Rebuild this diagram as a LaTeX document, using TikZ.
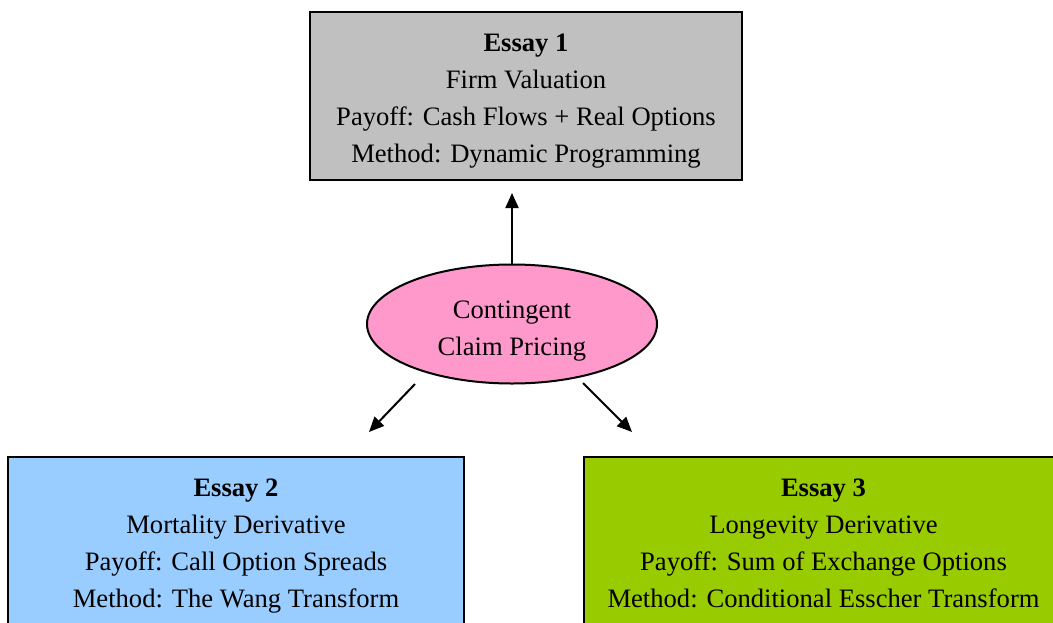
\documentclass[tikz,border=0pt]{standalone}
\usepackage{fontspec}
\setmainfont{Liberation Serif}
\usetikzlibrary{shapes.geometric}
\usetikzlibrary{arrows.meta}

\definecolor{essaygray}{HTML}{C0C0C0}
\definecolor{essaypink}{HTML}{FF99CC}
\definecolor{essayblue}{HTML}{99CCFF}
\definecolor{essaygreen}{HTML}{99CC00}

\begin{document}
\begin{tikzpicture}[
	x=1pt, y=-1pt,
	every node/.style={
		align=center,
		inner sep=0pt,
		font=\fontsize{26.6}{37}\selectfont
	},
	essay/.style={
		draw=black,
		line width=2pt,
		minimum height=168,
		text height=138pt,
		text depth=5pt
	},
	claim/.style={
		ellipse,
		draw=black,
		line width=2pt,
		fill=essaypink,
		minimum width=290,
		minimum height=119,
		text height=68pt,
		text depth=5pt
	},
	link/.style={
		line width=2pt,
		-{Triangle[length=15pt,width=13pt]}
	}
]

\useasboundingbox (0,0) rectangle (1053,622);
\clip (0,0) rectangle (1053,622);

\node[essay, fill=essaygray, minimum width=432] (E1) at (526,96)
	{\textbf{Essay 1}\\Firm Valuation\\Payoff: Cash Flows + Real Options\\Method: Dynamic Programming};
\node[claim] (CCP) at (512,324) {Contingent\\Claim Pricing};
\node[essay, fill=essayblue, minimum width=456] (E2) at (236,541)
	{\textbf{Essay 2}\\Mortality Derivative\\Payoff: Call Option Spreads\\Method: The Wang Transform};
\node[essay, fill=essaygreen, minimum width=479] (E3) at (823.5,541)
	{\textbf{Essay 3}\\Longevity Derivative\\Payoff: Sum of Exchange Options\\Method: Conditional Esscher Transform};

\coordinate (U1) at (512,193);
\coordinate (L1) at (415,384);
\coordinate (L2) at (369,432);
\coordinate (R1) at (583,383);
\coordinate (R2) at (632,432);

\draw[link] (CCP.north) -- (U1);
\draw[link] (L1) -- (L2);
\draw[link] (R1) -- (R2);
\end{tikzpicture}
\end{document}
